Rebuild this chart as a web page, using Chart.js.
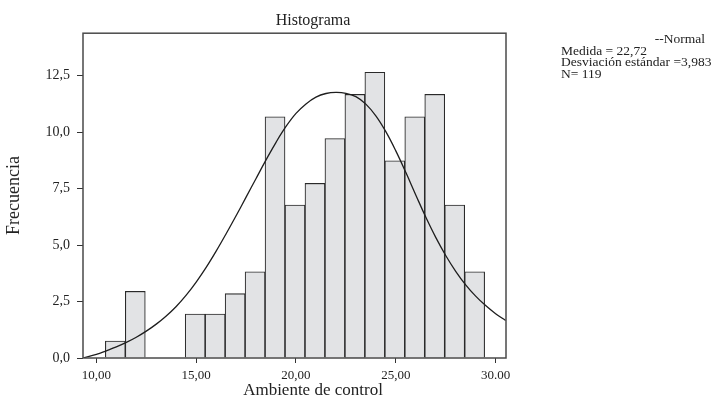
<!DOCTYPE html>
<html>
<head>
<meta charset="utf-8">
<script src="https://cdn.jsdelivr.net/npm/chart.js@4"></script>
<style>
  body { margin: 0; background: #fff; }
  #wrap { position: relative; width: 719px; height: 399px; }
  #stats {
    position: absolute; left: 561px; top: 33px; width: 144px;
    font-family: "Liberation Serif", serif; font-size: 13.5px; line-height: 11.7px;
    color: #222; white-space: nowrap;
  }
  #stats .r { text-align: right; }
</style>
</head>
<body>
<div id="wrap">
  <canvas id="hist" width="719" height="399"></canvas>
  <div id="stats">
    <div class="r">--Normal</div>
    <div>Medida = 22,72</div>
    <div>Desviación estándar =3,983</div>
    <div>N= 119</div>
  </div>
</div>
<script>
// Histogram bins (center of each 1-unit bin) and bar heights
const binCenters = [10.95, 11.95, 12.95, 13.95, 14.95, 15.95, 16.95, 17.95, 18.95, 19.95,
                    20.95, 21.95, 22.95, 23.95, 24.95, 25.95, 26.95, 27.95, 28.95];
const frequencies = [0.75, 2.95, 0, 0, 1.95, 1.95, 2.85, 3.82, 10.68, 6.77,
                     7.73, 9.72, 11.67, 12.65, 8.73, 10.68, 11.67, 6.77, 3.82];

// Normal curve, points
const curveX = [9.35, 10.0, 10.5, 11.0, 11.5, 12.0, 12.5, 13.0, 13.5, 14.0, 14.5, 15.0, 15.5,
                16.0, 16.5, 17.0, 17.5, 18.0, 18.5, 19.0, 19.5, 20.0, 20.5, 21.0, 21.5, 22.0,
                22.5, 23.0, 23.5, 24.0, 24.5, 25.0, 25.5, 26.0, 26.5, 27.0, 27.5, 28.0, 28.5,
                29.0, 29.5, 30.0, 30.5];
const curveY = [0.0, 0.16, 0.32, 0.49, 0.69, 0.92, 1.19, 1.5, 1.86, 2.28, 2.78, 3.36, 4.01,
                4.73, 5.5, 6.3, 7.12, 7.95, 8.77, 9.55, 10.25, 10.83, 11.25, 11.55, 11.71, 11.76,
                11.72, 11.57, 11.24, 10.72, 10.02, 9.17, 8.22, 7.22, 6.24, 5.34, 4.54, 3.84, 3.24,
                2.74, 2.32, 1.96, 1.66];

const xTickValues = [10, 15, 20, 25, 30];
const xTickLabels = ['10,00', '15,00', '20,00', '25,00', '30.00'];
const yTickValues = [0, 2.5, 5, 7.5, 10, 12.5];
const yTickLabels = ['0,0', '2,5', '5,0', '7,5', '10,0', '12,5'];

const serif = '"Liberation Serif", "Times New Roman", serif';

// frame around the plot area
const boxPlugin = {
  id: 'box',
  afterDraw(chart) {
    const a = chart.chartArea;
    const c = chart.ctx;
    c.save();
    c.strokeStyle = '#4a4a4a';
    c.lineWidth = 1.5;
    c.strokeRect(a.left, a.top, a.right - a.left, a.bottom - a.top);
    c.restore();
  }
};

const ctx = document.getElementById('hist').getContext('2d');
new Chart(ctx, {
  type: 'bar',
  data: {
    datasets: [
      {
        type: 'line',
        data: curveX.map((x, i) => ({ x: x, y: curveY[i] })),
        borderColor: '#1e1e1e',
        borderWidth: 1.3,
        pointRadius: 0,
        tension: 0.4,
        fill: false,
        order: 0
      },
      {
        data: binCenters.map((x, i) => ({ x: x, y: frequencies[i] })),
        backgroundColor: '#e2e3e5',
        borderColor: '#2a2a2a',
        borderWidth: 1.1,
        barPercentage: 1,
        categoryPercentage: 1,
        order: 1
      }
    ]
  },
  options: {
    responsive: false,
    animation: false,
    devicePixelRatio: 1,
    layout: { padding: { left: 0, right: 93, top: 0, bottom: 0 } },
    plugins: {
      legend: { display: false },
      tooltip: { enabled: false },
      title: {
        display: true,
        text: 'Histograma',
        color: '#222',
        font: { family: serif, size: 16, weight: 'normal' },
        padding: { top: 11, bottom: 3 }
      },
      subtitle: {
        display: true,
        position: 'bottom',
        text: 'Ambiente de control',
        color: '#222',
        font: { family: serif, size: 17, lineHeight: 1 },
        padding: { top: 0, bottom: 0 }
      }
    },
    scales: {
      x: {
        type: 'linear',
        min: 9.33,
        max: 30.52,
        offset: false,
        afterBuildTicks: s => { s.ticks = xTickValues.map(v => ({ value: v })); },
        afterFit: s => { s.height = 24; },
        ticks: {
          callback: (v) => xTickLabels[xTickValues.indexOf(v)],
          color: '#222',
          font: { family: serif, size: 13 },
          padding: 5,
          maxRotation: 0
        },
        grid: { display: true, drawOnChartArea: false, drawTicks: true, tickLength: 5, color: '#333', offset: false },
        border: { display: false }
      },
      y: {
        min: 0,
        max: 14.38,
        afterBuildTicks: s => { s.ticks = yTickValues.map(v => ({ value: v })); },
        afterFit: s => { s.width = 83; },
        ticks: {
          callback: (v) => yTickLabels[yTickValues.indexOf(v)],
          color: '#222',
          font: { family: serif, size: 14 },
          padding: 7
        },
        grid: { display: true, drawOnChartArea: false, drawTicks: true, tickLength: 6, color: '#333' },
        border: { display: false },
        title: {
          display: true,
          text: 'Frecuencia',
          color: '#222',
          font: { family: serif, size: 18 },
          padding: { top: 3, bottom: 0 }
        }
      },
      // empty right-hand axis: keeps the plot box narrow so the titles sit right of its centre
      yRight: {
        position: 'right',
        display: true,
        afterFit: s => { s.width = 120; },
        ticks: { display: false },
        grid: { display: false },
        border: { display: false }
      }
    }
  },
  plugins: [boxPlugin]
});
</script>
</body>
</html>
